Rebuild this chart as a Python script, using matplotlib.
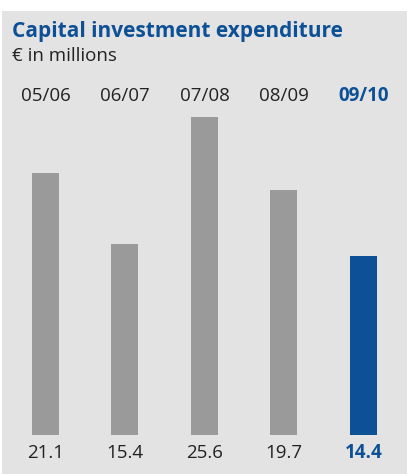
import matplotlib
matplotlib.use("Agg")
from matplotlib import pyplot as plt
from matplotlib.patches import Rectangle
import matplotlib.transforms as mtransforms

# DATA
YEARS = ["05/06", "06/07", "07/08", "08/09", "09/10"]
VALUES = [21.1, 15.4, 25.6, 19.7, 14.4]
VALUE_LABELS = ["21.1", "15.4", "25.6", "19.7", "14.4"]

# COLORS
BLUE = "#0d5096"
GREY_BAR = "#9a9a9b"
BG = "#e3e3e3"
TEXT = "#222222"

W, H = 409, 474
DPI = 100


def main():
    plt.rcParams["font.family"] = ["Open Sans", "DejaVu Sans"]
    fig = plt.figure(figsize=(W / DPI, H / DPI), dpi=DPI)
    fig.patch.set_facecolor("white")
    fig.patches.append(Rectangle((2 / W, 0), 405 / W, (H - 11) / H,
                                 transform=fig.transFigure, facecolor=BG,
                                 edgecolor="none", zorder=-5))

    bottom_px = H - 434.7
    px_per_unit = 12.41
    spacing = 79.5
    first = 45.5
    ax = fig.add_axes([0, bottom_px / H, 1, 1 - bottom_px / H])
    ax.set_xlim(-first / spacing, (W - first) / spacing)
    ax.set_ylim(0, (H - bottom_px) / px_per_unit)
    ax.axis("off")
    ax.patch.set_alpha(0)

    colors = [GREY_BAR] * (len(VALUES) - 1) + [BLUE]
    xs = list(range(len(VALUES)))
    ax.bar(xs, VALUES, width=27 / spacing, color=colors, zorder=2)

    trans = mtransforms.blended_transform_factory(ax.transData, fig.transFigure)
    for i, (yr, lab) in enumerate(zip(YEARS, VALUE_LABELS)):
        last = i == len(YEARS) - 1
        c = BLUE if last else TEXT
        w = "bold" if last else "normal"
        ax.text(i, 1 - 96 / H, yr, transform=trans, ha="center", va="center",
                fontsize=13.5, color=c, fontweight=w)
        ax.text(i, 1 - 453 / H, lab, transform=trans, ha="center", va="center",
                fontsize=13.5, color=c, fontweight=w)

    fig.text(12 / W, 1 - 31 / H, "Capital investment expenditure",
             ha="left", va="center", fontsize=15, fontweight="bold", color=BLUE)
    fig.text(12 / W, 1 - 56 / H, "€ in millions", ha="left", va="center",
             fontsize=13.5, color=TEXT)

    fig.savefig("out.png", dpi=DPI)


if __name__ == "__main__":
    main()
